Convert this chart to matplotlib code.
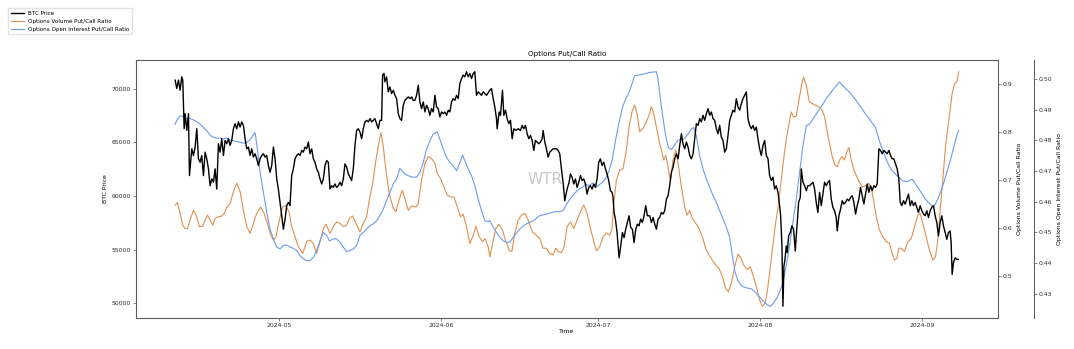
import numpy as np
import pandas as pd
import matplotlib
matplotlib.use("Agg")
import matplotlib.pyplot as plt

# BTC price (days since 2024-04-01, USD)
btc_day = [
    10.12, 10.43, 10.75, 11.07, 11.39, 11.58, 11.84, 12.03, 12.35, 12.67, 12.86, 13.30, 13.62, 13.94,
    14.26, 14.58, 14.90, 15.21, 15.53, 15.85, 16.17, 16.49, 16.81, 17.13, 17.45, 17.76, 18.08, 18.40,
    18.72, 19.04, 19.36, 19.68, 20.00, 20.31, 20.63, 20.95, 21.27, 21.59, 21.91, 22.23, 22.54, 22.86,
    23.18, 23.50, 23.82, 24.14, 24.46, 24.78, 25.09, 25.41, 25.73, 26.05, 26.37, 26.69, 27.01, 27.32,
    27.64, 27.96, 28.28, 28.60, 28.92, 29.24, 29.56, 29.87, 30.19, 30.51, 30.83, 31.15, 31.47, 31.79,
    32.10, 32.42, 32.74, 33.06, 33.38, 33.70, 34.02, 34.34, 34.65, 34.97, 35.29, 35.61, 35.93, 36.25,
    36.57, 36.88, 37.20, 37.52, 37.84, 38.16, 38.48, 38.80, 39.12, 39.43,
    39.75, 40.07, 40.39, 40.71, 41.02, 41.34, 41.66, 41.98, 42.30, 42.62, 42.94, 43.26, 43.57, 43.89,
    44.21, 44.53, 44.85, 45.17, 45.49, 45.81, 46.12, 46.44, 46.76, 47.08, 47.40, 47.72, 48.04, 48.35,
    48.67, 48.99, 49.31, 49.63, 49.82, 50.08, 50.27, 50.58, 50.90, 51.22, 51.54, 51.86, 52.18, 52.50,
    52.82, 53.13, 53.45, 53.77, 54.09, 54.41, 54.73, 55.05, 55.37, 55.68, 56.00, 56.32, 56.64, 56.96,
    57.28, 57.60, 57.92, 58.23, 58.55, 58.87, 59.19, 59.51, 59.83, 60.15, 60.46, 60.78, 61.10, 61.42,
    61.74, 62.06, 62.38, 62.69, 63.01, 63.33, 63.65, 63.97, 64.29, 64.61, 64.93, 65.24, 65.56, 65.88,
    66.20, 66.52, 66.84, 67.16, 67.47, 67.79, 68.11, 68.43, 68.75, 69.07, 69.39, 69.71,
    70.34, 70.66, 70.98, 71.30, 71.61, 71.74, 72.12, 72.38, 72.76, 73.02, 73.34, 73.65, 73.97, 74.29,
    74.61, 74.93, 75.31, 75.76, 76.20, 76.52, 76.84, 77.16, 77.48, 77.80, 78.12, 78.43, 78.75, 79.07,
    79.39, 79.71, 80.03, 80.35, 80.54, 80.86, 81.17, 81.49, 81.81, 82.13, 82.45, 82.77, 83.09, 83.41,
    83.72, 84.04, 84.36, 84.68, 84.87, 85.13, 85.51, 85.76, 86.08, 86.40, 86.72, 87.04, 87.36, 87.68,
    88.00, 88.31, 88.63, 88.95, 89.27, 89.59, 89.91, 90.23, 90.54, 90.86, 91.18, 91.50, 91.82, 92.14,
    92.46, 92.77, 93.09, 93.41, 93.73, 93.92, 94.11, 94.37, 94.69, 95.07, 95.39, 95.71, 96.03, 96.34,
    96.66, 96.98, 97.30, 97.62, 97.94, 98.26, 98.57, 98.89, 99.21, 99.53, 99.85, 100.17, 100.49,
    100.94, 101.26, 101.58, 101.90, 102.21, 102.53, 102.85, 103.17, 103.49, 103.81, 104.13, 104.45,
    104.76, 105.08, 105.40, 105.72, 106.04, 106.36, 106.68, 107.00, 107.31, 107.63, 107.95, 108.27,
    108.59, 108.91, 109.23, 109.54, 109.86, 110.18, 110.50, 110.82, 111.14, 111.46, 111.78, 112.09,
    112.41, 112.73, 113.05, 113.37, 113.69, 114.01, 114.32, 114.64, 114.96, 115.28, 115.60, 115.92,
    116.24, 116.56, 116.87, 117.19, 117.51, 117.83, 118.15, 118.47, 118.79, 119.10, 119.42, 119.74,
    120.06, 120.38, 120.70, 121.02, 121.34, 121.65, 121.97, 122.29, 122.61, 122.93, 123.25, 123.57,
    123.88, 124.20, 124.52, 124.84, 125.16, 125.48, 125.80, 125.99, 126.24, 126.43, 126.62, 126.82,
    127.07, 127.26, 127.52, 127.84, 128.15, 128.47, 128.79, 128.98, 129.17, 129.43, 129.75, 129.94,
    130.26, 130.58, 130.90, 131.21,
    131.53, 131.85, 132.17, 132.49, 132.80, 133.12, 133.44, 133.76, 134.08, 134.40, 134.72, 135.04,
    135.35, 135.67, 135.99, 136.31, 136.63, 136.82, 137.14, 137.46, 137.78, 138.09, 138.41, 138.73,
    139.05, 139.37, 139.69, 140.01, 140.33, 140.64, 140.96, 141.28, 141.60, 141.92, 142.24, 142.56,
    142.87, 143.19, 143.51, 143.83, 144.15, 144.47, 144.79, 145.11, 145.42, 145.74, 146.06, 146.38,
    146.70, 147.02, 147.34, 147.65, 147.97, 148.29, 148.61, 148.87, 149.18, 149.50, 149.82, 150.14,
    150.46, 150.78, 151.10, 151.41, 151.73, 152.05, 152.37, 152.69, 153.01, 153.33, 153.65, 153.96,
    154.28, 154.60, 154.92, 155.24, 155.56, 155.87, 156.19, 156.51, 156.83, 157.15, 157.47, 157.79,
    158.10, 158.42, 158.62, 158.81, 159.06, 159.38, 159.70, 160.02,
]
btc_price = [
    70780, 70000, 70780, 69840, 71090, 70780, 66260, 67660, 66100, 67660, 61900, 64390, 63760, 64550,
    66260, 63460, 63140, 63770, 61900, 64080, 63460, 62530, 60960, 61590, 61280, 62530, 60650, 64860,
    64080, 65330, 63770, 65170, 64860, 65330, 64710, 65170, 66260, 66730, 66260, 66890, 66420, 66890,
    66570, 65330, 64390, 64550, 63770, 64390, 63620, 63930, 63460, 62840, 63460, 63770, 63930, 63620,
    63770, 62840, 62210, 62840, 64550, 63460, 61590, 60650, 59410, 58160, 56910, 57850, 59100, 59410,
    59100, 61900, 62530, 63460, 63770, 63930, 63770, 64240, 64080, 64550, 64390, 65020, 63930, 64390,
    63460, 63140, 62530, 62210, 61590, 61120, 61590, 62840, 63300, 63140,
    60650, 60960, 60800, 61120, 60800, 60960, 61280, 60960, 61590, 62990, 62680, 62060, 61750, 61440,
    62530, 64700, 66100, 66260, 65950, 65330, 66260, 66890, 67040, 66890, 67200, 66890, 67040, 67200,
    66730, 66260, 67040, 67040, 71250, 71400, 70620, 71090, 69690, 70150, 69530, 69840, 69370, 69060,
    67660, 67200, 67040, 68440, 68900, 69060, 69220, 69060, 69220, 68900, 68900, 69370, 70310, 68750,
    68130, 68750, 67820, 68440, 68130, 67510, 68130, 67820, 69370, 68280, 68130, 67350, 67820, 67660,
    67820, 67510, 67980, 67820, 68750, 69060, 68900, 69370, 69060, 70470, 70930, 71250, 71090, 71560,
    71090, 71400, 70930, 71400, 71560, 69370, 69690, 69530, 69370, 69690, 69530, 69370,
    69840, 70000, 69060, 68280, 67200, 66260, 67820, 67510, 69840, 67510, 67980, 67200, 66730, 67040,
    65330, 66260, 66100, 66260, 66100, 66570, 66260, 66570, 65790, 65330, 65640, 65170, 64240, 65170,
    65020, 64860, 65020, 65330, 66100, 65020, 64390, 63610, 64080, 64240, 64390, 64390, 64390, 64240,
    63930, 62520, 61280, 59560, 60030, 60650, 61280, 62060, 61750, 61120, 61590, 60800, 61280, 61900,
    61440, 61590, 61120, 60180, 60800, 60960, 60650, 61120, 60800, 61590, 63150, 63460, 62840, 63150,
    62530, 62060, 61440, 60500, 60340, 59870, 58470, 57850, 56600, 54260, 55350, 56600, 56130, 56910,
    57540, 58160, 57070, 56910, 55660, 56910, 57380, 57230, 57850, 57540, 58160, 59100, 58160,
    58160, 57540, 58000, 57380, 56910, 57850, 58000, 58470, 58320, 58630, 59710, 60030,
    60960, 62210, 62680, 63460, 63930, 63460, 64700, 65790, 64860, 64390, 65020, 64550,
    63770, 63460, 63930, 65330, 66730, 66570, 67200, 66890, 67510, 67040, 67660, 68130,
    67510, 67820, 67200, 67040, 66260, 65790, 66570, 65480, 65170, 64080, 64390, 65640,
    67040, 67510, 67980, 67820, 69060, 68280, 67980, 68590, 69060, 69370, 69690, 67200,
    66570, 66260, 66570, 66100, 66420, 65330, 64390, 63770, 64700, 65170, 63770, 63460,
    61900, 61440, 61750, 60650, 60960, 60340, 59100, 58160, 55350, 49740, 53480, 54100,
    55350, 54730, 56290, 56600, 57230, 56910, 54880, 56290, 57540, 59410, 59870, 62520,
    61280, 60960, 60500, 60960,
    60960, 61120, 61280, 60650, 59410, 58470, 60340, 59100, 60180, 61280, 60960, 61280,
    61440, 59720, 58940, 58630, 58000, 56750, 58160, 58790, 59560, 59250, 59410, 59720,
    59560, 59870, 60030, 59410, 58320, 59100, 59720, 60800, 60030, 59250, 60180, 61120,
    60340, 60960, 60500, 60960, 60800, 61120, 64390, 64240, 63930, 64240, 64080, 63930,
    64240, 63770, 63460, 63460, 62990, 62530, 61590, 59410, 59100, 59560, 59250, 59720,
    60180, 59100, 59560, 59100, 59410, 58940, 58470, 59100, 58630, 58320, 58160, 58630,
    58000, 58630, 58940, 59100, 58160, 57540, 56290, 57540, 58160, 57230, 56600, 55970,
    56600, 56750, 55660, 52700, 53790, 54260, 54100, 54100,
]

# Options volume put/call ratio
vol_day = [
    10.12, 10.56, 11.07, 11.58, 12.03, 12.47, 12.98, 13.62, 14.13, 14.77, 15.41, 15.85, 16.30, 16.81,
    17.32, 17.76, 18.40, 19.04, 19.55, 20.00, 20.63, 21.27, 21.91, 22.54, 23.18, 23.82, 24.46, 25.09,
    25.73, 26.50, 27.13, 27.77, 28.28, 28.92, 29.43, 30.06, 30.70, 31.34, 31.98, 32.42, 33.06, 33.70,
    34.53, 35.29, 35.93, 36.57, 37.20, 37.84, 38.48, 38.99, 39.75, 40.39, 41.02, 41.66, 42.30, 42.94,
    43.45, 44.08, 44.72, 45.49, 46.12, 46.76, 47.27, 47.91, 48.55, 49.18, 49.50, 49.95, 50.46, 51.10,
    51.86, 52.37, 52.94, 53.58, 54.09, 54.73, 55.37, 56.19, 56.64, 57.28, 57.92, 58.55, 59.19, 59.83,
    60.27, 60.91, 61.55, 62.18, 62.82, 63.46, 64.10, 64.73, 65.24, 65.88, 66.52, 67.16, 67.67, 68.30,
    68.94, 69.45, 70.02, 70.34, 70.85, 71.49, 72.12, 72.76, 73.40, 74.04, 74.55, 75.12, 75.76, 76.39,
    77.03, 77.67, 78.50, 79.26, 79.90, 80.54, 81.17, 81.81, 82.45, 82.96, 83.41, 84.04, 84.55, 85.13,
    85.76, 86.40, 87.04, 87.68, 88.31, 88.95, 89.59, 90.23, 90.74, 91.37, 92.01, 92.65, 93.28, 93.73,
    94.05, 94.56, 95.20, 95.83, 96.47, 96.98, 97.62, 98.06, 98.51, 99.02, 99.66, 100.30, 100.81,
    101.26, 101.70, 102.21, 102.72, 103.17, 103.62, 104.00, 104.45, 104.89, 105.40, 105.91, 106.36,
    107.00, 107.63, 108.08, 108.59, 109.10, 109.74, 110.37, 111.01, 111.65, 112.28, 112.92, 113.56,
    114.20, 114.83, 115.47, 115.98, 116.56, 117.19, 117.83, 118.28, 118.91, 119.55, 120.19, 120.70,
    121.34, 121.97, 122.48, 122.99, 123.38, 123.88, 124.39, 125.03, 125.67, 126.31, 126.94, 127.58,
    128.03, 128.47, 128.98, 129.49, 130.00, 130.39, 130.90, 131.40, 131.53, 132.04, 132.68, 133.31,
    133.95, 134.40, 134.84, 135.35, 135.87, 136.37, 136.82, 137.27, 137.78, 138.22, 138.67, 139.05,
    139.50, 140.01, 140.45, 140.96, 141.60, 142.24, 142.87, 143.32, 143.77, 144.28, 144.91, 145.55,
    146.19, 146.83, 147.34, 147.78, 148.23, 148.61, 149.06, 149.69, 150.33, 150.97, 151.61, 152.24,
    152.69, 153.20, 153.84, 154.47, 155.11, 155.62, 156.07, 156.51, 157.02, 157.53, 158.17, 158.81,
    159.26, 159.70, 160.08,
]
vol_ratio = [
    0.648, 0.653, 0.631, 0.606, 0.599, 0.599, 0.617, 0.637, 0.627, 0.603, 0.604, 0.617, 0.627, 0.617,
    0.606, 0.620, 0.624, 0.625, 0.631, 0.644, 0.651, 0.676, 0.694, 0.676, 0.637, 0.603, 0.589, 0.610,
    0.631, 0.644, 0.631, 0.610, 0.589, 0.575, 0.582, 0.617, 0.644, 0.647, 0.631, 0.603, 0.582, 0.561,
    0.547, 0.572, 0.575, 0.568, 0.547, 0.572, 0.599, 0.608, 0.589, 0.603, 0.613, 0.610, 0.603, 0.606,
    0.620, 0.625, 0.610, 0.592, 0.610, 0.624, 0.658, 0.693, 0.742, 0.783, 0.799, 0.769, 0.721, 0.672,
    0.641, 0.634, 0.658, 0.679, 0.662, 0.637, 0.646, 0.644, 0.651, 0.700, 0.735, 0.749, 0.745, 0.735,
    0.714, 0.703, 0.686, 0.669, 0.665, 0.665, 0.644, 0.624, 0.629, 0.603, 0.568, 0.585, 0.604, 0.582,
    0.572, 0.578, 0.561, 0.540, 0.568, 0.599, 0.608, 0.596, 0.572, 0.554, 0.551, 0.589, 0.617, 0.627,
    0.631, 0.617, 0.592, 0.585, 0.578, 0.558, 0.558, 0.547, 0.544, 0.558, 0.551, 0.549, 0.561, 0.603,
    0.613, 0.599, 0.617, 0.634, 0.648, 0.631, 0.599, 0.572, 0.553, 0.561, 0.582, 0.590, 0.585, 0.599,
    0.651, 0.700, 0.721, 0.724, 0.763, 0.811, 0.846, 0.856, 0.839, 0.801, 0.808, 0.822, 0.835,
    0.853, 0.839, 0.811, 0.783, 0.763, 0.742, 0.752, 0.728, 0.697, 0.742, 0.763, 0.735,
    0.686, 0.644, 0.627, 0.637, 0.620, 0.610, 0.599, 0.582, 0.558, 0.544, 0.533, 0.523,
    0.516, 0.499, 0.474, 0.467, 0.485, 0.519, 0.546, 0.540, 0.523, 0.514, 0.519, 0.502,
    0.478, 0.450, 0.437, 0.443, 0.464, 0.506, 0.554, 0.610, 0.658, 0.721, 0.776, 0.818,
    0.842, 0.832, 0.833, 0.867, 0.898, 0.915, 0.898, 0.867, 0.863, 0.860, 0.856, 0.853,
    0.846, 0.832, 0.804, 0.776, 0.749, 0.731, 0.728, 0.742, 0.749, 0.742, 0.759, 0.768,
    0.742, 0.721, 0.710, 0.697, 0.686, 0.688, 0.693, 0.686, 0.658, 0.624, 0.596, 0.582,
    0.572, 0.568, 0.547, 0.533, 0.537, 0.558, 0.558, 0.551, 0.572, 0.578, 0.603, 0.627,
    0.631, 0.610, 0.582, 0.554, 0.533, 0.540, 0.575, 0.637, 0.700, 0.769, 0.825, 0.881,
    0.901, 0.905, 0.926,
]

# Options open interest put/call ratio
oi_day = [
    10.12, 10.56, 11.07, 11.71, 12.35, 12.98, 13.62, 14.26, 14.90, 15.53, 16.17, 16.81, 17.45, 18.08,
    18.72, 19.36, 20.00, 20.63, 21.27, 21.91, 22.54, 23.18, 23.82, 24.46, 24.97, 25.41, 25.86, 26.37,
    27.01, 27.64, 28.28, 28.92, 29.56, 30.19, 30.83, 31.47, 32.10, 32.74, 33.38, 34.02, 34.65, 35.29,
    35.93, 36.57, 37.20, 37.84, 38.48, 39.12, 39.62, 39.75, 40.39, 41.02, 41.66, 42.30, 42.94, 43.57,
    44.21, 44.85, 45.49, 46.12, 46.76, 47.40, 48.04, 48.67, 49.31, 49.95, 50.58, 51.22, 51.86, 52.50,
    53.13, 53.77, 54.41, 55.05, 55.68, 56.32, 56.96, 57.60, 58.23, 58.87, 59.51, 60.27, 60.78, 61.42,
    62.06, 62.69, 63.33, 63.97, 64.61, 65.12, 65.56, 66.20, 66.84, 67.47, 68.11, 68.75, 69.39, 70.02,
    70.34, 70.98, 71.61, 72.25, 72.89, 73.53, 74.16, 74.80, 75.44, 76.08, 76.71, 77.35, 77.99, 78.63,
    79.26, 79.90, 80.54, 81.17, 81.81, 82.45, 83.09, 83.72, 84.36, 84.87, 85.51, 86.15, 86.78, 87.42,
    88.06, 88.70, 89.33, 89.97, 90.61, 91.25, 91.88, 92.52, 93.16, 93.79, 94.43, 95.07, 95.71, 96.34,
    96.98, 97.62, 98.06, 98.70, 99.66, 100.30, 100.94, 102.21, 102.53, 102.98, 103.49, 104.00, 104.51,
    105.08, 105.72, 106.36, 107.00, 107.63, 108.27, 108.91, 109.35, 109.86, 110.50, 111.14, 111.78,
    112.41, 113.05, 113.69, 114.32, 114.96, 115.60, 116.24, 116.75, 117.26, 117.83, 118.47, 119.10,
    119.74, 120.38, 121.02, 121.65, 122.29, 122.93, 123.57, 124.01, 124.52, 125.16, 125.80, 126.43,
    127.07, 127.71, 128.34, 128.98, 129.62, 130.26, 130.90, 131.40, 131.53, 132.17, 132.80, 133.44,
    134.08, 134.72, 135.35, 135.99, 136.63, 137.27, 137.78, 138.41, 139.05, 139.69, 140.33, 140.96,
    141.60, 142.24, 142.87, 143.51, 144.15, 144.79, 145.42, 146.06, 146.70, 147.34, 147.97, 148.61,
    149.24, 150.01, 150.65, 151.16, 151.80, 152.44, 153.07, 153.71, 154.35, 154.98, 155.43, 156.07,
    156.71, 157.34, 157.98, 158.62, 159.26, 159.70, 160.08,
]
oi_ratio = [
    0.4853, 0.4870, 0.4880, 0.4878, 0.4870, 0.4872, 0.4867, 0.4861, 0.4853, 0.4842, 0.4832, 0.4817,
    0.4810, 0.4807, 0.4808, 0.4804, 0.4809, 0.4801, 0.4799, 0.4796, 0.4794, 0.4791, 0.4794, 0.4802,
    0.4815, 0.4826, 0.4772, 0.4696, 0.4631, 0.4566, 0.4511, 0.4479, 0.4452, 0.4446, 0.4457, 0.4459,
    0.4452, 0.4448, 0.4441, 0.4424, 0.4414, 0.4408, 0.4408, 0.4419, 0.4441, 0.4473, 0.4500, 0.4490,
    0.4473, 0.4473, 0.4479, 0.4479, 0.4468, 0.4452, 0.4437, 0.4441, 0.4446, 0.4457, 0.4490, 0.4500,
    0.4511, 0.4522, 0.4528, 0.4538, 0.4555, 0.4576, 0.4604, 0.4631, 0.4658, 0.4674, 0.4709, 0.4696,
    0.4687, 0.4683, 0.4680, 0.4680, 0.4696, 0.4728, 0.4772, 0.4799, 0.4821, 0.4828, 0.4804, 0.4772,
    0.4745, 0.4728, 0.4718, 0.4701, 0.4728, 0.4752, 0.4734, 0.4707, 0.4685, 0.4652, 0.4609, 0.4571,
    0.4538, 0.4535, 0.4538, 0.4517, 0.4500, 0.4484, 0.4473, 0.4468, 0.4468, 0.4484, 0.4498, 0.4511,
    0.4520, 0.4528, 0.4533, 0.4538, 0.4546, 0.4555, 0.4557, 0.4560, 0.4563, 0.4566, 0.4568, 0.4568,
    0.4571, 0.4587, 0.4604, 0.4620, 0.4631, 0.4642, 0.4647, 0.4658, 0.4652, 0.4661, 0.4647, 0.4655,
    0.4663, 0.4676, 0.4701, 0.4739, 0.4804, 0.4859, 0.4908, 0.4935, 0.4956, 0.4989, 0.5011, 0.5013,
    0.5016, 0.5019, 0.5022, 0.5024, 0.5000, 0.4935, 0.4870, 0.4815, 0.4777, 0.4770, 0.4785, 0.4802,
    0.4802, 0.4807, 0.4821, 0.4837, 0.4842, 0.4815, 0.4750, 0.4707, 0.4674, 0.4647, 0.4620, 0.4598,
    0.4571, 0.4544, 0.4517, 0.4484, 0.4424, 0.4370, 0.4343, 0.4327, 0.4321, 0.4318, 0.4316, 0.4307,
    0.4294, 0.4283, 0.4272, 0.4262, 0.4259, 0.4267, 0.4283, 0.4305, 0.4338, 0.4392, 0.4457, 0.4533,
    0.4609, 0.4696, 0.4783, 0.4848, 0.4853, 0.4853, 0.4870, 0.4886, 0.4902, 0.4918, 0.4937, 0.4951,
    0.4965, 0.4978, 0.4991, 0.4980, 0.4969, 0.4960, 0.4946, 0.4933, 0.4918, 0.4902, 0.4886, 0.4872,
    0.4857, 0.4842, 0.4804, 0.4772, 0.4745, 0.4718, 0.4701, 0.4690, 0.4680, 0.4669, 0.4665, 0.4669,
    0.4674, 0.4658, 0.4642, 0.4625, 0.4609, 0.4596, 0.4587, 0.4587, 0.4609, 0.4636, 0.4669, 0.4707,
    0.4745, 0.4788, 0.4815, 0.4832,
]

t0 = pd.Timestamp("2024-04-01")
btc_t = t0 + pd.to_timedelta(btc_day, unit="D")
vol_t = t0 + pd.to_timedelta(vol_day, unit="D")
oi_t = t0 + pd.to_timedelta(oi_day, unit="D")

plt.rcParams.update({
    "font.size": 4.4,
    "axes.edgecolor": "#5e5e5e",
    "axes.linewidth": 0.75,
    "xtick.major.size": 2,
    "ytick.major.size": 2,
    "xtick.major.width": 0.5,
    "ytick.major.width": 0.5,
    "xtick.color": "#555555",
    "ytick.color": "#555555",
    "xtick.labelcolor": "#2e2e2e",
    "ytick.labelcolor": "#2e2e2e",
    "xtick.major.pad": 1.5,
    "ytick.major.pad": 1.5,
})

fig = plt.figure(figsize=(10.74, 3.49), dpi=100)
ax = fig.add_axes([0.1266, 0.0888, 0.8026, 0.7392])

l1, = ax.plot(btc_t, btc_price, color="black", lw=1.0, label="BTC Price", zorder=3)
ax.set_ylabel("BTC Price", labelpad=3)
ax.set_xlabel("Time", labelpad=1)
ax.set_title("Options Put/Call Ratio", fontsize=5.2, pad=3)

ax2 = ax.twinx()
l2, = ax2.plot(vol_t, vol_ratio, color="#e0904f", lw=0.8, label="Options Volume Put/Call Ratio")
ax2.set_ylabel("Options Volume Put/Call Ratio", labelpad=3)

ax3 = ax.twinx()
ax3.spines["right"].set_position(("axes", 1.0418))
l3, = ax3.plot(oi_t, oi_ratio, color="#6a9cf0", lw=0.8, label="Options Open Interest Put/Call Ratio")
ax3.set_ylabel("Options Open Interest Put/Call Ratio", labelpad=3)
ax3.yaxis.set_major_formatter(matplotlib.ticker.FormatStrFormatter("%.2f"))

ax.set_zorder(ax3.get_zorder() + 1)
ax.patch.set_visible(False)

ax.text(0.475, 0.535, "WTR", transform=ax.transAxes, fontsize=11, color="#c8c8c8",
        ha="center", va="center", zorder=0)

fig.legend(handles=[l1, l2, l3], loc="upper left", bbox_to_anchor=(0.005, 0.985),
           fontsize=4.1, frameon=True, edgecolor="#dddddd", fancybox=False,
           handlelength=2.2, borderpad=0.5, labelspacing=0.5)

fig.savefig("out.png", dpi=100)
